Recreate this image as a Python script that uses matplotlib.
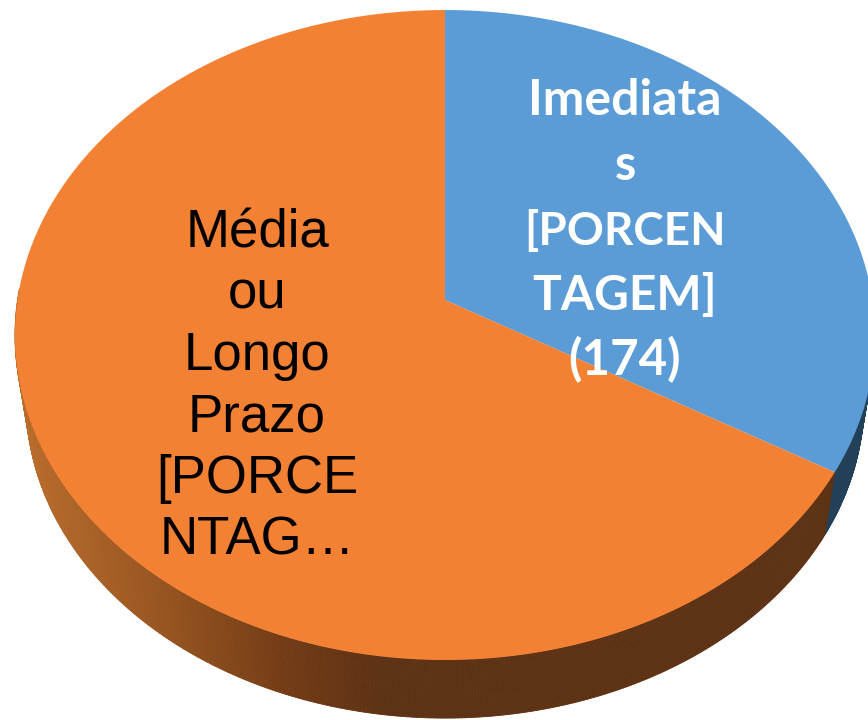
#!/usr/bin/env python
# coding: utf-8

import numpy as np
import matplotlib
matplotlib.use('Agg')
import matplotlib.pyplot as plt
from matplotlib.collections import PolyCollection
from matplotlib.colors import LinearSegmentedColormap

# values (first slice starts at 12 o'clock, clockwise)
categories = ['Imediatas', 'Média ou Longo Prazo']
values     = [174, 346]

labels_blue   = ['Imediata', 's', '[PORCEN', 'TAGEM]', '(174)']
labels_orange = ['Média', 'ou', 'Longo', 'Prazo', '[PORCE', 'NTAG…']

# Lato is a bit off from the original font, so each line gets its own size
sizes_blue = [36, 35, 33, 34.5, 35.5]

top_colors  = ['#5b9bd6', '#f38134']
blue_side   = '#234059'
orange_side = LinearSegmentedColormap.from_list(
    'side', [(0.0, '#b96d2d'), (0.35, '#95531f'), (0.62, '#743c16'), (0.85, '#5e3214'), (1.0, '#5e3214')])

# pie geometry in pixels, the disc is seen with some perspective
cx, top_y, bottom_y = 445, 300, 367.5
bottom_scale = 0.974
persp  = 0.1077
size_x = 427.5
size_y = 321.2

def project(ang, r=1.0, base_y=top_y, scale=1.0):
    # ang is measured clockwise from 12 o'clock
    u = r * np.sin(ang)
    v = r * np.cos(ang)
    d = 1 + persp * v
    return cx + scale * size_x * u / d, base_y - scale * size_y * v / d

fig = plt.figure(figsize=(8.68, 7.2), dpi=100)
ax = fig.add_axes([0, 0, 1, 1])
ax.set_xlim(0, 868)
ax.set_ylim(720, 0)
ax.axis('off')

edges = np.concatenate([[0], np.cumsum(values)]) / np.sum(values) * 2 * np.pi

# side wall, thin strips so the shading can follow x. only the front part is visible
strips = np.linspace(np.radians(88), np.radians(272), 500)
polys, cols = [], []
for a0, a1 in zip(strips[:-1], strips[1:]):
    tx, ty = project(np.array([a0, a1]))
    bx, by = project(np.array([a1, a0]), base_y=bottom_y, scale=bottom_scale)
    polys.append(np.column_stack([np.r_[tx, bx], np.r_[ty, by]]))
    mid = (a0 + a1) / 2
    if mid < edges[1]:
        cols.append(blue_side)
    else:
        cols.append(orange_side(np.clip((tx.mean() - 20) / 420, 0, 1)))
ax.add_collection(PolyCollection(polys, facecolors=cols, edgecolors=cols, linewidths=0.6, zorder=1))

# top face
for a0, a1, col in zip(edges[:-1], edges[1:], top_colors):
    ang = np.linspace(a0, a1, 400)
    x, y = project(ang)
    ax.fill(np.r_[cx, x], np.r_[top_y, y], color=col, lw=0, zorder=2)

for i, line in enumerate(labels_orange):
    ax.text(257, 247 + i * 61.5, line, ha='center', va='baseline', color='black',
            family='Liberation Sans', fontsize=38, zorder=3)

for i, (line, size) in enumerate(zip(labels_blue, sizes_blue)):
    ax.text(625, 115 + i * 65, line, ha='center', va='baseline', color='white',
            family='Lato', fontweight='bold', fontsize=size, zorder=3)

fig.savefig('out.png', dpi=100)
